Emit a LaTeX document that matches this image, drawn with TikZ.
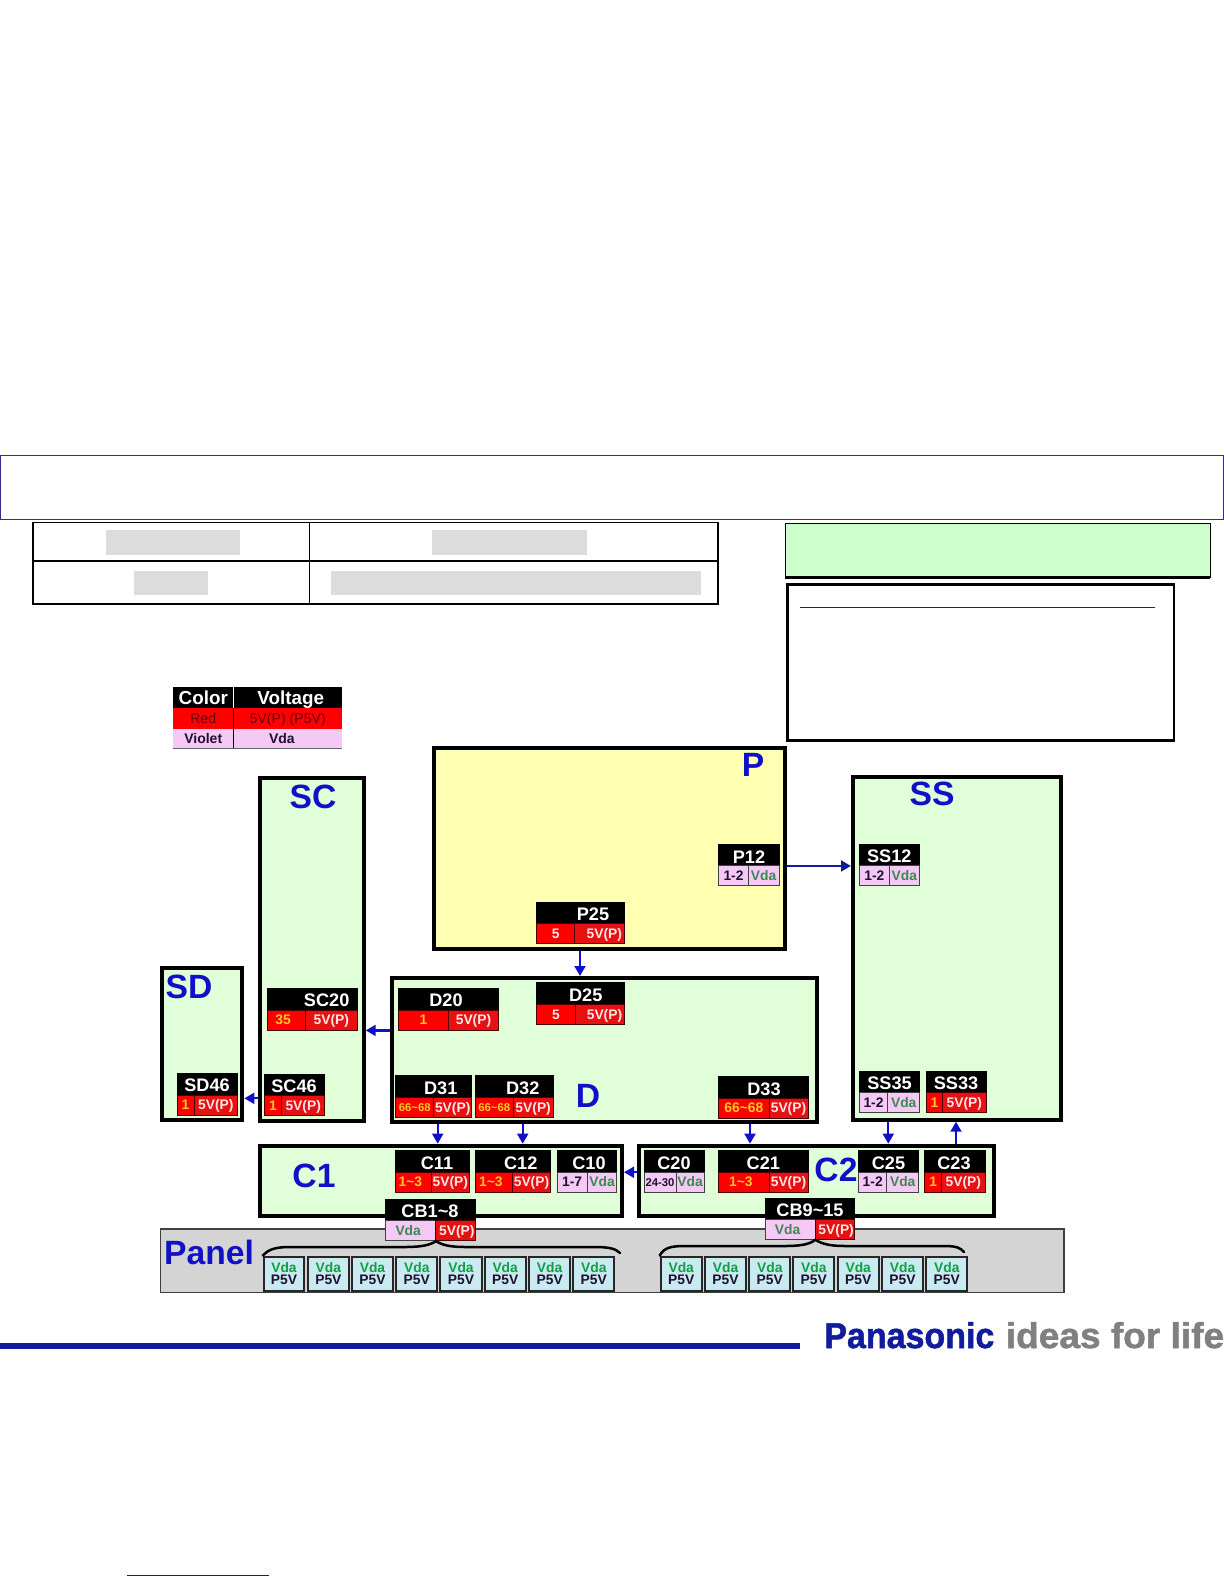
\documentclass[tikz,border=0pt]{standalone}
\usepackage{fontspec}
\usepackage{graphicx}
\setmainfont{Liberation Sans}
\newfontfamily\logofont[FakeBold=1.4]{Liberation Sans Bold}
\usetikzlibrary{arrows.meta}
\definecolor{blueL}{HTML}{1010C8}
\definecolor{navyL}{HTML}{101C9C}
\definecolor{frameC}{HTML}{3A2A90}
\definecolor{yelF}{HTML}{FFFFB2}
\definecolor{grnF}{HTML}{E0FFD8}
\definecolor{grnT}{HTML}{CCFFCC}
\definecolor{vioF}{HTML}{F5C8F5}
\definecolor{cellB}{HTML}{C8EAF0}
\definecolor{vdaT}{HTML}{3C8A50}
\definecolor{vdaS}{HTML}{10A040}
\definecolor{darkT}{HTML}{201030}
\definecolor{orgT}{HTML}{FFC820}
\definecolor{pinkT}{HTML}{FFE6E6}
\definecolor{redD}{HTML}{E81010}
\definecolor{greyR}{HTML}{DCDCDC}
\definecolor{panelG}{HTML}{D4D4D4}
\definecolor{logoG}{HTML}{808080}
\tikzset{
  panel/.style={draw=black,line width=2.4pt},
  bigL/.style={text=blueL,font=\fontsize{20.2}{22}\selectfont\bfseries,inner sep=0pt},
  hdr/.style={fill=black,draw=black,line width=0.3pt},
  hdrtext/.style={text=white,font=\fontsize{10.9}{12}\selectfont\bfseries,inner sep=0pt,yshift=-0.9pt},
  cellf/.style={font=\fontsize{8.3}{10}\selectfont\bfseries,text height=5.9pt,text depth=0pt},
  redl/.style={cellf,fill=red,draw=black!70!red,line width=0.5pt,text=orgT},
  redw/.style={cellf,fill=red,draw=black!70!red,line width=0.5pt,text=pinkT},
  redr/.style={cellf,fill=redD,draw=black!70!red,line width=0.5pt,text=pinkT},
  viol/.style={cellf,fill=vioF,draw=black!75,line width=0.5pt,text=darkT},
  vior/.style={cellf,fill=vioF,draw=black!75,line width=0.5pt,text=vdaT},
  smallnum/.style={font=\fontsize{6.8}{8}\selectfont\bfseries,text height=4.9pt},
  arr/.style={draw=blueL,fill=blueL,line width=1.4pt,-{Triangle[length=6pt,width=6.5pt]}},
  brace/.style={draw=black,line width=1.5pt,line cap=round},
  pin/.style={fill=cellB,draw=black!85,line width=1.2pt,align=center,
    font=\fontsize{8.3}{7.6}\selectfont\bfseries},
  grey/.style={fill=greyR},
  lg/.style={font=\fontsize{8.5}{10}\selectfont,text height=6pt,text depth=0pt},
  lgv/.style={font=\fontsize{8.4}{10}\selectfont\bfseries,text height=6pt,text depth=0pt},
  lgh/.style={fill=black,text=white,font=\fontsize{11.3}{13}\selectfont\bfseries,text height=8pt,text depth=0pt},
}
\newcommand{\boxtext}[7]{\node[#2,inner sep=0pt,minimum width={(#5-#3)*0.6pt},minimum height={(#6-#4)*0.6pt}] (#1) at ({(#3+#5)/2},{(#4+#6)/2}) {#7};}
\newcommand{\panelbox}[6]{\node[panel,fill=#2,inner sep=0pt,minimum width={(#5-#3-4)*0.6pt},minimum height={(#6-#4-4)*0.6pt}] (#1) at ({(#3+#5)/2},{(#4+#6)/2}) {};}
\newcommand{\conn}[9]{\def\cn{#1}\def\cxa{#2}\def\cxb{#3}\def\cys{#5}\def\cyb{#6}\def\cxc{#7}%
  \boxtext{#1-h}{hdr}{#2}{#4}{#3}{#5}{}%
  \node[hdrtext] (#1-t) at (#8,{(#4+#5)/2}) {#9};}
\newcommand{\cells}[4]{%
  \boxtext{\cn-l}{#1}{\cxa}{\cys}{\cxc}{\cyb}{#2}%
  \boxtext{\cn-r}{#3}{\cxc}{\cys}{\cxb}{\cyb}{#4}}
\newcommand{\pinbox}[3]{\boxtext{#1}{pin}{#2}{1256.5}{#3}{1290.5}{\textcolor{vdaS}{Vda}\\\textcolor{darkT}{P5V}}}
\begin{document}
\begin{tikzpicture}[x=0.6pt,y=-0.6pt]
\useasboundingbox (0,0) rectangle (1224,1584);

% upper frame and table
\boxtext{frame}{draw=frameC,line width=0.9pt}{0.5}{455.5}{1223.5}{519.5}{}
\boxtext{tbl}{draw=black,line width=0.7pt}{33}{522.5}{718}{604}{}
\coordinate (tcol) at (309,561);
\draw[black,line width=0.7pt] (tbl.west |- tcol) -- (tbl.east |- tcol);
\draw[black,line width=0.5pt] (tbl.north -| tcol) -- (tbl.south -| tcol);
\boxtext{g1}{grey}{106}{530}{240}{555}{}
\boxtext{g2}{grey}{432}{530}{587}{555}{}
\boxtext{g3}{grey}{134}{571}{208}{595}{}
\boxtext{g4}{grey}{331}{571}{701}{595}{}
\boxtext{note}{fill=grnT,draw=black,line width=0.4pt}{785.5}{523.5}{1210}{577}{}
\draw[black,line width=1.5pt] (note.south west) -- (note.south east);
\boxtext{memo}{draw=black,line width=1.3pt}{787.5}{584.5}{1174}{740.5}{}
\coordinate (memoL) at (800,607.5);
\coordinate (memoR) at (1155,607.5);
\draw[navyL,line width=0.7pt] (memoL) -- (memoR);

% legend
\boxtext{lgA}{lgh}{173}{687}{233.5}{708}{Color}
\boxtext{lgB}{lgh}{233.5}{687}{342}{708}{\hspace*{3.6pt}Voltage}
\boxtext{lgC}{fill=red,text=black!60!red,lg}{173}{708}{233.5}{728.5}{Red}
\boxtext{lgD}{fill=red,text=black!60!red,lg}{233.5}{708}{342}{728.5}{5V(P) (P5V)}
\boxtext{lgE}{fill=vioF,text=darkT,lgv}{173}{728.5}{233.5}{748.5}{Violet}
\boxtext{lgF}{fill=vioF,text=darkT,lgv}{233.5}{728.5}{342}{748.5}{Vda\hspace*{7pt}}
\draw[white,line width=0.5pt] (lgA.north east) -- (lgA.south east);
\draw[black,line width=0.5pt] (lgC.north east) -- (lgE.south east);
\draw[black!60,line width=0.6pt] (lgE.south west) -- (lgF.south east);

% panels
\boxtext{Panel}{fill=panelG,draw=black!75,line width=1pt}{160.5}{1229}{1064}{1292.5}{}
\panelbox{Pbox}{yelF}{432}{745.5}{786.7}{950.7}
\panelbox{SSbox}{grnF}{851}{775}{1063}{1121.7}
\panelbox{SCbox}{grnF}{257.7}{776}{365.7}{1122.7}
\panelbox{SDbox}{grnF}{159.7}{966}{244.3}{1121.7}
\panelbox{Dbox}{grnF}{390}{976}{818.7}{1124}
\panelbox{Cone}{grnF}{257.7}{1143.7}{624}{1217.7}
\panelbox{Ctwo}{grnF}{637}{1143.7}{995.7}{1218.3}

\node[bigL] (Pl) at (753,765) {P};
\node[bigL] (SSl) at (932,794) {SS};
\node[bigL] (SCl) at (313,797) {SC};
\node[bigL] (SDl) at (189,987) {SD};
\node[bigL] (Dl) at (588,1096) {D};
\node[bigL] (C1l) at (314,1176) {C1};
\node[bigL] (C2l) at (836,1170) {C2};
\node[bigL] (Pal) at (209,1252) {Panel};

% connectors
\conn{P12}{718.7}{779}{844.7}{865.7}{885.3}{748.3}{749}{P12}
\cells{viol}{1-2}{vior}{Vda}
\conn{P25}{536.7}{624}{902.3}{923.7}{943.7}{574.7}{593}{P25}
\cells{redw}{5}{redr}{\hspace*{6pt}5V(P)}
\conn{SS12}{859.3}{919.3}{844.7}{865.7}{885.3}{889.3}{889.3}{SS12}
\cells{viol}{1-2}{vior}{Vda}
\conn{SC20}{267.7}{357.3}{988.3}{1010}{1030}{305.3}{326.7}{SC20}
\cells{redl}{35\hspace*{4pt}}{redr}{5V(P)}
\conn{SD46}{177}{237.7}{1073.3}{1095}{1115}{194}{207}{SD46}
\cells{redl}{1}{redr}{5V(P)}
\conn{SC46}{264.3}{324.7}{1074.3}{1095.3}{1115.7}{281.7}{294}{SC46}
\cells{redl}{1}{redr}{5V(P)}
\conn{D20}{398}{498.3}{988.3}{1010}{1030}{448.7}{446}{D20}
\cells{redl}{1}{redr}{5V(P)}
\conn{D25}{536.7}{624}{982.7}{1004.3}{1024.3}{575}{585.7}{D25}
\cells{redw}{5}{redr}{\hspace*{6pt}5V(P)}
\conn{D31}{395.7}{471.7}{1075.7}{1097.3}{1117.3}{433.7}{440.7}{D31}
\cells{redl,smallnum}{66\textasciitilde68}{redr}{5V(P)}
\conn{D32}{475.3}{553}{1075.7}{1097.3}{1117.3}{513.3}{522.7}{D32}
\cells{redl,smallnum}{66\textasciitilde68}{redr}{5V(P)}
\conn{D33}{718.7}{808}{1076.7}{1098}{1118}{769}{764}{D33}
\cells{redl}{66\textasciitilde68}{redr}{5V(P)}
\conn{SS35}{859.3}{919.7}{1071.3}{1092.7}{1112.7}{887.7}{889.5}{SS35}
\cells{viol}{1-2}{vior}{Vda}
\conn{SS33}{926}{986}{1071.3}{1092.7}{1112.7}{942.7}{956}{SS33}
\cells{redl}{1}{redr}{5V(P)}
\conn{C11}{395}{469}{1150.7}{1172}{1192}{431.7}{437}{C11}
\cells{redl}{1\textasciitilde3\hspace*{3.6pt}}{redr}{5V(P)}
\conn{C12}{475.3}{550.7}{1150.7}{1172}{1192}{512.3}{520.7}{C12}
\cells{redl}{1\textasciitilde3\hspace*{3.6pt}}{redr}{5V(P)}
\conn{C10}{557}{616.7}{1150.7}{1172}{1192}{587.3}{589}{C10}
\cells{viol}{1-7}{vior}{Vda}
\conn{C20}{644}{704.3}{1150.7}{1172}{1192}{676}{674}{C20}
\cells{viol,smallnum}{24-30}{vior}{Vda}
\conn{C21}{718.7}{808}{1150.7}{1172}{1192}{769}{763.3}{C21}
\cells{redl}{1\textasciitilde3\hspace*{3.6pt}}{redr}{5V(P)}
\conn{C25}{858.7}{918.7}{1150.7}{1172}{1192}{886.7}{888.5}{C25}
\cells{viol}{1-2}{vior}{Vda}
\conn{C23}{924.7}{985}{1150.7}{1172}{1192}{941.7}{954}{C23}
\cells{redl}{1}{redr}{5V(P)}

% panel pins
\pinbox{A1}{263.7}{304.3}
\pinbox{A2}{307.7}{349}
\pinbox{A3}{352}{393}
\pinbox{A4}{396.3}{437.3}
\pinbox{A5}{440.3}{481.7}
\pinbox{A6}{484.7}{525.7}
\pinbox{A7}{529.3}{570}
\pinbox{A8}{573.3}{614.3}
\pinbox{B1}{660.7}{701.7}
\pinbox{B2}{705}{746}
\pinbox{B3}{749.3}{790.3}
\pinbox{B4}{793.3}{834.3}
\pinbox{B5}{837.7}{878.7}
\pinbox{B6}{882}{923}
\pinbox{B7}{926.3}{967.3}

% board connectors, over panels
\conn{CBa}{385.7}{475}{1199.3}{1220}{1240.7}{435.7}{430}{CB1\textasciitilde8}
\cells{vior}{Vda\hspace*{3pt}}{redr}{\hspace*{1.8pt}5V(P)}
\conn{CBb}{765.3}{854.3}{1198.3}{1219.3}{1239.3}{815}{810}{CB9\textasciitilde15}
\cells{vior}{Vda\hspace*{3pt}}{redr}{\hspace*{1.8pt}5V(P)}

% braces
\draw[brace] (A1.north west) .. controls (268,1250) and (274,1247) .. (290,1247)
  -- (405,1247) .. controls (422,1247) and (430,1245) .. (CBa-l.south east)
  .. controls (442,1245) and (450,1247) .. (465,1247)
  -- (595,1247) .. controls (610,1247) and (616,1249) .. (620,1253);
\draw[brace] (B1.north west) .. controls (664,1248) and (670,1246) .. (685,1246)
  -- (785,1246) .. controls (802,1246) and (810,1244) .. (CBb-l.south east)
  .. controls (822,1244) and (830,1246) .. (845,1246)
  -- (945,1246) .. controls (956,1246) and (961,1248) .. (964,1252);

% arrows
\coordinate (xP) at (580,0);
\coordinate (xD31) at (437.7,0);
\coordinate (xD32) at (522.7,0);
\coordinate (xD33) at (750,0);
\coordinate (xS35) at (888.3,0);
\coordinate (xC23) at (956,0);
\coordinate (ySD) at (0,1098.3);
\draw[arr,draw=navyL,fill=navyL] (Pbox.east |- P12-h.south) -- (SSbox.west |- P12-h.south);
\draw[arr] (Pbox.south -| xP) -- (Dbox.north -| xP);
\draw[arr] (Dbox.west |- SC20-l.south) -- (SCbox.east |- SC20-l.south);
\draw[arr] (SCbox.west |- ySD) -- (SDbox.east |- ySD);
\draw[arr] (Dbox.south -| xD31) -- (Cone.north -| xD31);
\draw[arr] (Dbox.south -| xD32) -- (Cone.north -| xD32);
\draw[arr] (Dbox.south -| xD33) -- (Ctwo.north -| xD33);
\draw[arr] (SSbox.south -| xS35) -- (Ctwo.north -| xS35);
\draw[arr] (Ctwo.north -| xC23) -- (SSbox.south -| xC23);
\draw[arr] (Ctwo.west |- C20-h.south) -- (Cone.east |- C20-h.south);

% footer
\coordinate (rulL) at (0,1346);
\coordinate (rulR) at (800,1346);
\draw[navyL,line width=3.2pt] (rulL) -- (rulR);
\node[anchor=south west,inner sep=0pt,text=navyL] (logoA) at (824,1348.7)
  {\resizebox{102pt}{15.6pt}{\logofont Panasonic}};
\node[anchor=south west,inner sep=0pt,text=logoG] (logoB) at (1005.5,1348.7)
  {\resizebox{131pt}{15.6pt}{\logofont ideas for life}};
\coordinate (footL) at (127,1575.7);
\coordinate (footR) at (269,1575.7);
\draw[blueL,line width=0.6pt] (footL) -- (footR);
\end{tikzpicture}
\end{document}
